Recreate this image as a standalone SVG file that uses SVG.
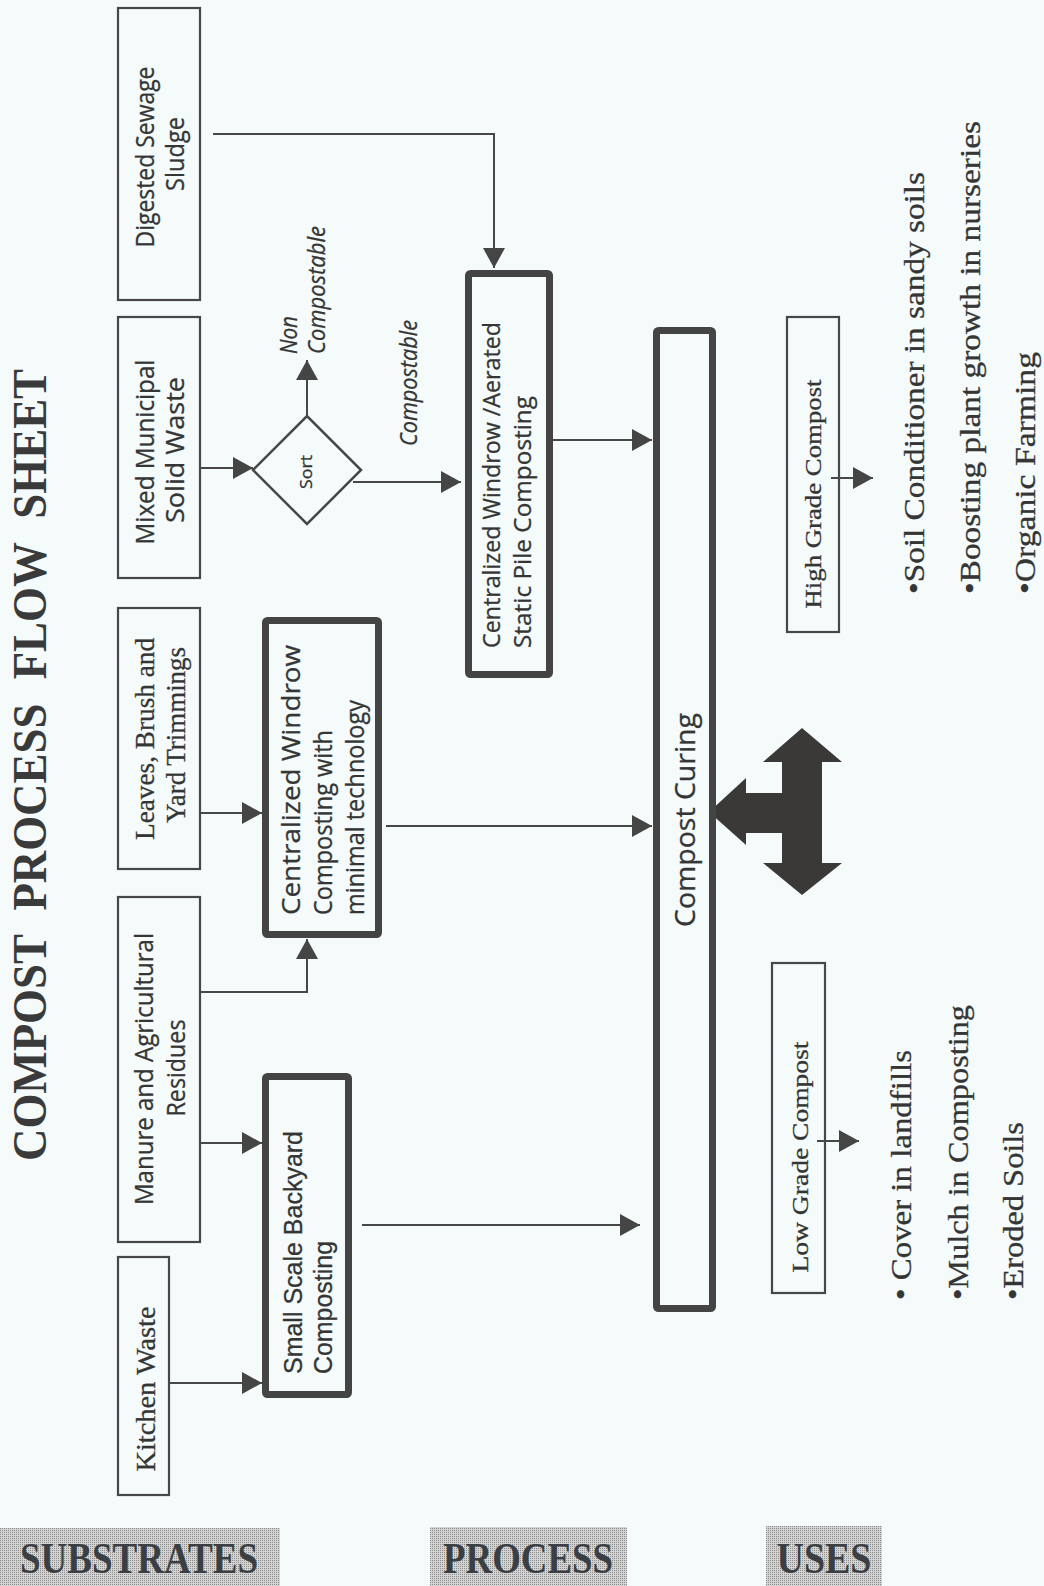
<svg xmlns="http://www.w3.org/2000/svg" width="1044" height="1586" viewBox="0 0 1044 1586">
  <defs>
    <style>
      .bg { fill: #f4fbfa; }
      .box { fill: none; stroke: #474747; stroke-width: 2.2; }
      .heavy { fill: none; stroke: #444444; stroke-width: 7; stroke-linejoin: round; }
      .link { fill: none; stroke: #474747; stroke-width: 2; }
      .serif { font-family: "Liberation Serif", "Times New Roman", serif; fill: #353535; stroke: #353535; stroke-width: 0.3; }
      .sans { font-family: "Open Sans", Lato, sans-serif; fill: #353535; stroke: #353535; stroke-width: 0.3; }
      .arial { font-family: "Liberation Sans", Arial, sans-serif; fill: #353535; stroke: #353535; stroke-width: 0.3; }
      .ital { font-family: "Open Sans", Lato, sans-serif; font-style: italic; fill: #353535; stroke: #353535; stroke-width: 0.3; }
      .title { font-family: "Liberation Serif", "Times New Roman", serif; font-weight: bold; fill: #3a3a3a; }
      .tag { font-family: "Liberation Serif", "Times New Roman", serif; font-weight: bold; fill: #3b3f44; }
    </style>
    <pattern id="halftone" width="2" height="2" patternUnits="userSpaceOnUse">
      <rect width="2" height="2" fill="#d4d4d4"/>
      <rect width="1" height="1" fill="#8a8a8a"/>
    </pattern>
    <marker id="ah" markerUnits="userSpaceOnUse" markerWidth="20" markerHeight="22" viewBox="0 0 20 22" refX="20" refY="11" orient="auto">
      <path d="M0,0 L20,11 L0,22 z" fill="#454545"/>
    </marker>
  </defs>

  <rect class="bg" x="0" y="0" width="1044" height="1586"/>

  <!-- title, read bottom to top -->
  <text class="title" font-size="48" word-spacing="14" transform="translate(46,1161) rotate(-90)" textLength="792" lengthAdjust="spacingAndGlyphs">COMPOST PROCESS FLOW SHEET</text>

  <!-- connectors -->
  <g id="connectors">
    <polyline class="link" points="213,134 494,134 494,268" marker-end="url(#ah)"/>
    <line class="link" x1="201" y1="468" x2="253" y2="468" marker-end="url(#ah)"/>
    <line class="link" x1="307" y1="416" x2="307" y2="360" marker-end="url(#ah)"/>
    <line class="link" x1="353" y1="482" x2="461" y2="482" marker-end="url(#ah)"/>
    <line class="link" x1="201" y1="813" x2="262" y2="813" marker-end="url(#ah)"/>
    <polyline class="link" points="201,992 307,992 307,939" marker-end="url(#ah)"/>
    <line class="link" x1="201" y1="1143" x2="262" y2="1143" marker-end="url(#ah)"/>
    <line class="link" x1="170" y1="1383" x2="262" y2="1383" marker-end="url(#ah)"/>
    <line class="link" x1="553" y1="440" x2="652" y2="440" marker-end="url(#ah)"/>
    <line class="link" x1="386" y1="826" x2="652" y2="826" marker-end="url(#ah)"/>
    <line class="link" x1="362" y1="1225" x2="640" y2="1225" marker-end="url(#ah)"/>
    <line class="link" x1="831" y1="478" x2="873" y2="478" marker-end="url(#ah)"/>
    <line class="link" x1="817" y1="1141" x2="859" y2="1141" marker-end="url(#ah)"/>
    <!-- three-way block arrow between curing and the two grades -->
    <polygon fill="#3b3838" points="802,728 842,762 822,762 822,863 842,863 802,895 763,863 782,863 782,833 746,833 746,845 709,812 746,778 746,793 782,793 782,762 763,762"/>
  </g>

  <!-- substrates -->
  <g id="sludge">
    <rect class="box" x="118" y="8" width="82" height="292"/>
    <text class="sans" font-size="25" text-anchor="middle" transform="translate(154,157) rotate(-90)" textLength="181" lengthAdjust="spacingAndGlyphs">Digested Sewage</text>
    <text class="sans" font-size="25" text-anchor="middle" transform="translate(184,154) rotate(-90)" textLength="74" lengthAdjust="spacingAndGlyphs">Sludge</text>
  </g>
  <g id="msw">
    <rect class="box" x="118" y="317" width="82" height="261"/>
    <text class="sans" font-size="25" text-anchor="middle" transform="translate(154,452) rotate(-90)" textLength="185" lengthAdjust="spacingAndGlyphs">Mixed Municipal</text>
    <text class="sans" font-size="25" text-anchor="middle" transform="translate(184,450) rotate(-90)" textLength="146" lengthAdjust="spacingAndGlyphs">Solid Waste</text>
  </g>
  <g id="leaves">
    <rect class="box" x="118" y="608" width="82" height="261"/>
    <text class="serif" font-size="28" text-anchor="middle" transform="translate(154,739) rotate(-90)" textLength="202" lengthAdjust="spacingAndGlyphs">Leaves, Brush and</text>
    <text class="serif" font-size="28" text-anchor="middle" transform="translate(185,735) rotate(-90)" textLength="176" lengthAdjust="spacingAndGlyphs">Yard Trimmings</text>
  </g>
  <g id="manure">
    <rect class="box" x="118" y="897" width="82" height="345"/>
    <text class="sans" font-size="25" text-anchor="middle" transform="translate(153,1069) rotate(-90)" textLength="272" lengthAdjust="spacingAndGlyphs">Manure and Agricultural</text>
    <text class="sans" font-size="25" text-anchor="middle" transform="translate(185,1068) rotate(-90)" textLength="97" lengthAdjust="spacingAndGlyphs">Residues</text>
  </g>
  <g id="kitchen">
    <rect class="box" x="118" y="1257" width="51" height="238"/>
    <text class="serif" font-size="28" text-anchor="middle" transform="translate(155,1389) rotate(-90)" textLength="165" lengthAdjust="spacingAndGlyphs">Kitchen Waste</text>
  </g>

  <!-- sorting step -->
  <g id="sort">
    <polygon fill="none" stroke="#474747" stroke-width="2.5" points="253,470 307,416 361,470 307,524"/>
    <text class="sans" font-size="17" text-anchor="middle" transform="translate(312,472) rotate(-90)" textLength="34" lengthAdjust="spacingAndGlyphs">Sort</text>
  </g>
  <g id="label-non-compostable">
    <text class="ital" font-size="23" transform="translate(297,354) rotate(-90)" textLength="38" lengthAdjust="spacingAndGlyphs">Non</text>
    <text class="ital" font-size="23" transform="translate(325,354) rotate(-90)" textLength="128" lengthAdjust="spacingAndGlyphs">Compostable</text>
  </g>
  <g id="label-compostable">
    <text class="ital" font-size="23" transform="translate(417,446) rotate(-90)" textLength="126" lengthAdjust="spacingAndGlyphs">Compostable</text>
  </g>

  <!-- processes -->
  <g id="windrow-aerated">
    <rect class="heavy" x="468.5" y="273.5" width="81" height="401" rx="2"/>
    <text class="sans" font-size="24" transform="translate(500,648) rotate(-90)" textLength="326" lengthAdjust="spacingAndGlyphs">Centralized Windrow /Aerated</text>
    <text class="sans" font-size="24" transform="translate(531,648) rotate(-90)" textLength="252" lengthAdjust="spacingAndGlyphs">Static Pile Composting</text>
  </g>
  <g id="windrow-minimal">
    <rect class="heavy" x="265.5" y="620.5" width="113" height="314" rx="2"/>
    <text class="sans" font-size="25" transform="translate(300,915) rotate(-90)" textLength="270" lengthAdjust="spacingAndGlyphs">Centralized Windrow</text>
    <text class="sans" font-size="25" transform="translate(332,915) rotate(-90)" textLength="185" lengthAdjust="spacingAndGlyphs">Composting with</text>
    <text class="sans" font-size="25" transform="translate(364,915) rotate(-90)" textLength="215" lengthAdjust="spacingAndGlyphs">minimal technology</text>
  </g>
  <g id="backyard">
    <rect class="heavy" x="265.5" y="1076.5" width="83" height="318" rx="2"/>
    <text class="arial" font-size="25" transform="translate(302,1374) rotate(-90)" textLength="243" lengthAdjust="spacingAndGlyphs">Small Scale Backyard</text>
    <text class="arial" font-size="25" transform="translate(332,1374) rotate(-90)" textLength="133" lengthAdjust="spacingAndGlyphs">Composting</text>
  </g>
  <g id="curing">
    <rect class="heavy" x="656.5" y="330.5" width="56" height="978" rx="2"/>
    <text class="sans" font-size="27" text-anchor="middle" transform="translate(695,820) rotate(-90)" textLength="214" lengthAdjust="spacingAndGlyphs">Compost Curing</text>
  </g>

  <!-- uses -->
  <g id="high-grade">
    <rect class="box" x="787" y="317" width="52" height="315"/>
    <text class="serif" font-size="24" text-anchor="middle" transform="translate(821,494) rotate(-90)" textLength="229" lengthAdjust="spacingAndGlyphs">High Grade Compost</text>
  </g>
  <g id="low-grade">
    <rect class="box" x="772" y="963" width="53" height="330"/>
    <text class="serif" font-size="24" text-anchor="middle" transform="translate(808,1157) rotate(-90)" textLength="231" lengthAdjust="spacingAndGlyphs">Low Grade Compost</text>
  </g>
  <g id="high-grade-uses">
    <text class="serif" font-size="30" transform="translate(924,594) rotate(-90)" textLength="422" lengthAdjust="spacingAndGlyphs">•Soil Conditioner in sandy soils</text>
    <text class="serif" font-size="30" transform="translate(980,594) rotate(-90)" textLength="473" lengthAdjust="spacingAndGlyphs">•Boosting plant growth in nurseries</text>
    <text class="serif" font-size="30" transform="translate(1035,594) rotate(-90)" textLength="242" lengthAdjust="spacingAndGlyphs">•Organic Farming</text>
  </g>
  <g id="low-grade-uses">
    <text class="serif" font-size="30" transform="translate(911,1300) rotate(-90)" textLength="250" lengthAdjust="spacingAndGlyphs">• Cover in landfills</text>
    <text class="serif" font-size="30" transform="translate(968,1300) rotate(-90)" textLength="295" lengthAdjust="spacingAndGlyphs">•Mulch in Composting</text>
    <text class="serif" font-size="30" transform="translate(1023,1300) rotate(-90)" textLength="178" lengthAdjust="spacingAndGlyphs">•Eroded Soils</text>
  </g>

  <!-- column headings -->
  <g id="heading-substrates">
    <rect x="0" y="1528" width="280" height="58" fill="url(#halftone)"/>
    <text class="tag" font-size="44" text-anchor="middle" x="139" y="1573" textLength="238" lengthAdjust="spacingAndGlyphs">SUBSTRATES</text>
  </g>
  <g id="heading-process">
    <rect x="430" y="1527" width="197" height="59" fill="url(#halftone)"/>
    <text class="tag" font-size="44" text-anchor="middle" x="528" y="1573" textLength="170" lengthAdjust="spacingAndGlyphs">PROCESS</text>
  </g>
  <g id="heading-uses">
    <rect x="766" y="1526" width="116" height="60" fill="url(#halftone)"/>
    <text class="tag" font-size="44" text-anchor="middle" x="824" y="1573" textLength="95" lengthAdjust="spacingAndGlyphs">USES</text>
  </g>
</svg>
